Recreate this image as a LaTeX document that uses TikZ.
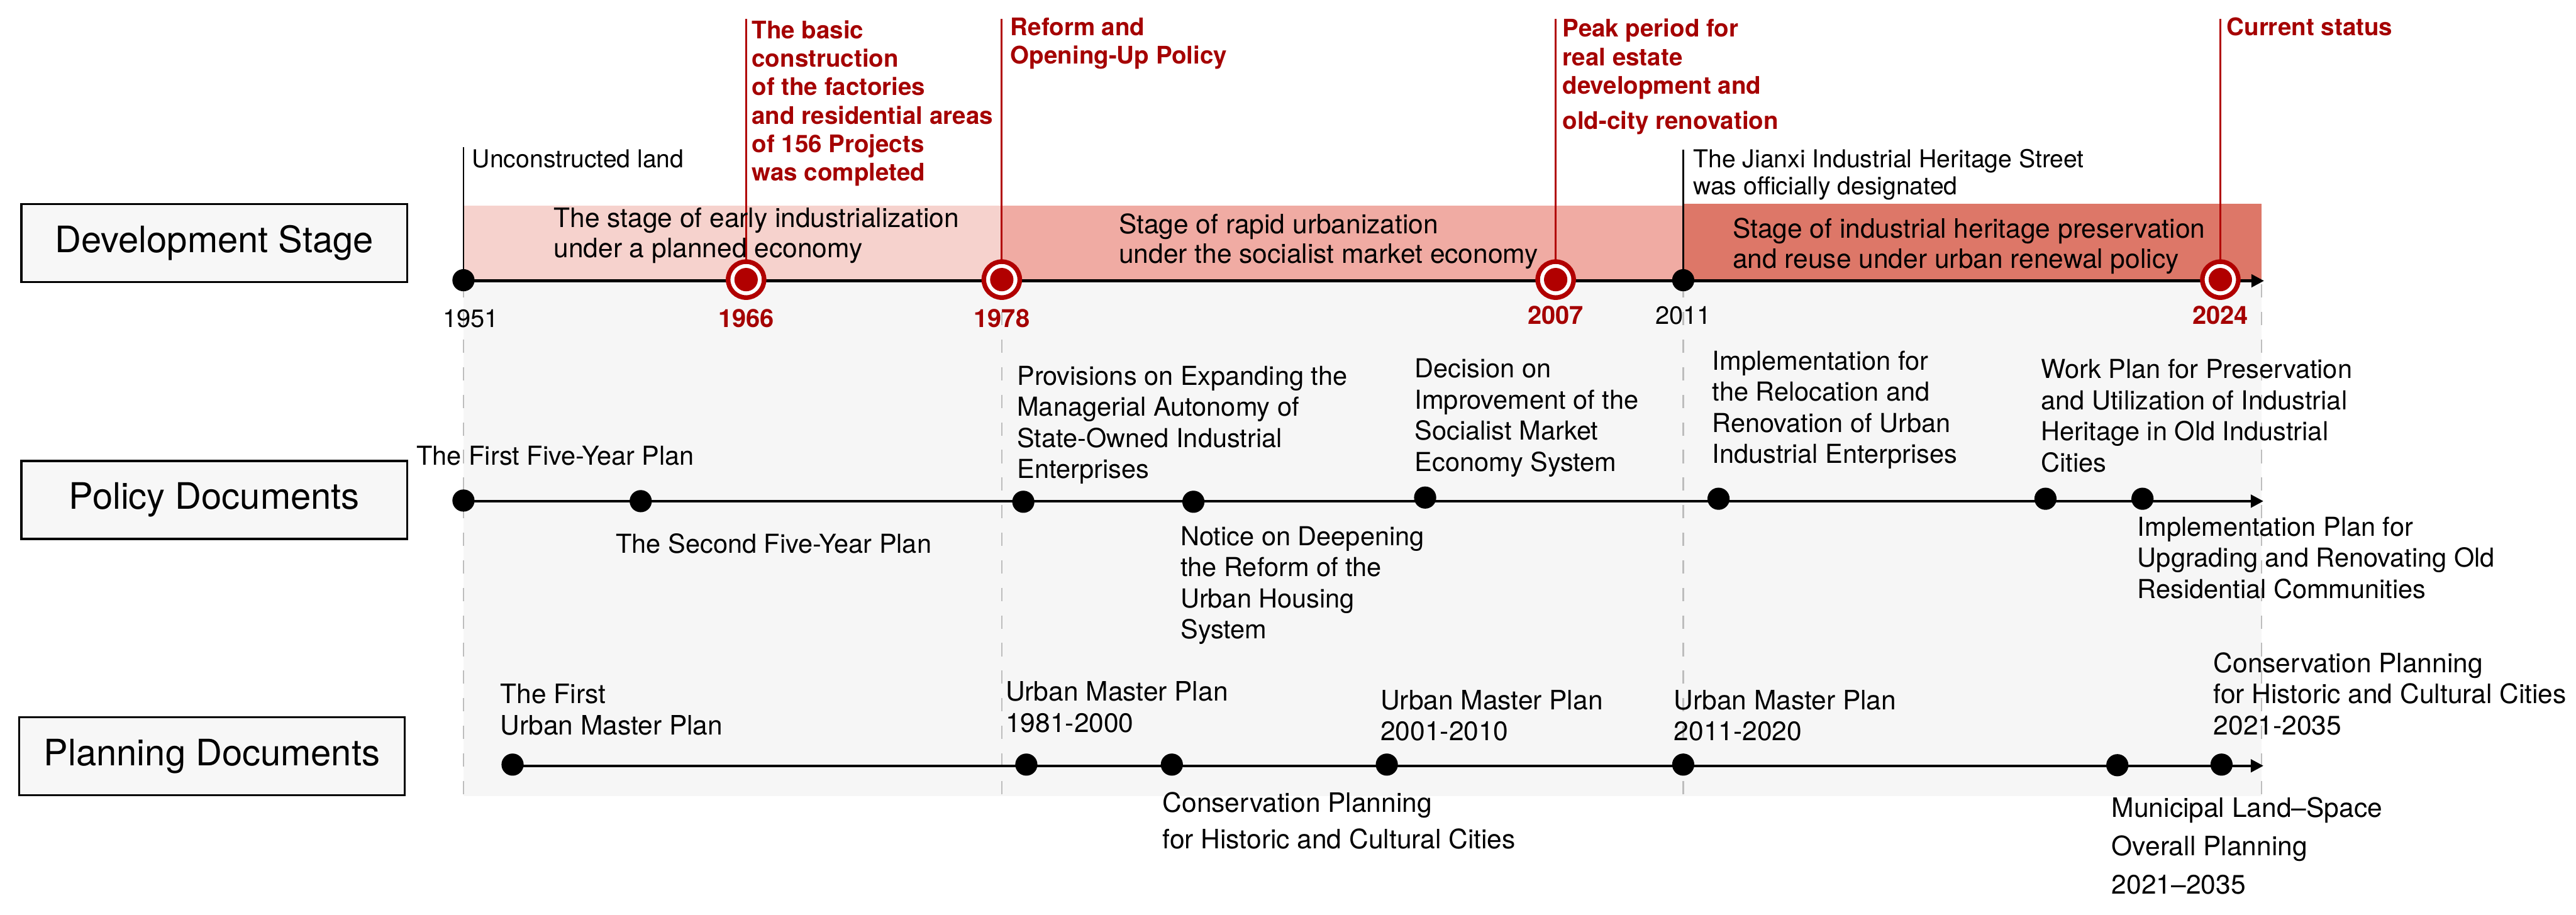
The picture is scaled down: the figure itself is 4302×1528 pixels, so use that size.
\documentclass[tikz,border=0pt]{standalone}
\usepackage{fontspec}
\setmainfont{TeX Gyre Heros}
\usetikzlibrary{arrows.meta}
\definecolor{ringred}{HTML}{B10000}
\definecolor{textred}{HTML}{A50000}
\definecolor{bandA}{HTML}{F6D2CD}
\definecolor{bandB}{HTML}{F0ABA3}
\definecolor{bandC}{HTML}{DD7768}
\definecolor{bggrey}{HTML}{F6F6F6}
\definecolor{boxfill}{HTML}{F7F7F7}
\definecolor{guidegrey}{HTML}{BDBDBD}
\newcommand\tlRow{\fontsize{17.3}{20}\selectfont}
\newcommand\tlBody{\fontsize{12.4}{14.8}\selectfont}
\newcommand\tlPlan{\fontsize{12.7}{14.8}\selectfont}
\newcommand\tlBand{\fontsize{12.7}{14.2}\selectfont}
\newcommand\tlNote{\fontsize{11.7}{12.8}\selectfont}
\newcommand\tlRed{\fontsize{11.5}{13.5}\selectfont\bfseries}
\newcommand\tlYear{\fontsize{11.9}{14}\selectfont}
\begin{document}
\begin{tikzpicture}[x=0.01cm,y=-0.01cm,
  rowbox/.style={draw=black, line width=1pt, fill=boxfill, minimum width=6.44cm, minimum height=1.30cm, inner sep=0pt, font=\tlRow},
  axis/.style={line width=1.3pt, draw=black, -{Triangle[length=6pt,width=6pt]}},
  guide/.style={draw=guidegrey, line width=0.7pt, dash pattern=on 6.3pt off 6.8pt},
  stem/.style={line width=0.85pt, draw=black},
  redstem/.style={line width=0.85pt, draw=ringred},
  bdot/.style={circle, fill=black, inner sep=0pt, minimum size=0.37cm},
  ring/.style={circle, draw=ringred, line width=2.2pt, fill=white, inner sep=0pt, minimum size=0.60cm},
  rdot/.style={circle, fill=ringred, inner sep=0pt, minimum size=0.39cm},
  lab/.style={anchor=base west, inner sep=0pt, align=left, font=\tlBody},
  plab/.style={anchor=base west, inner sep=0pt, align=left, font=\tlPlan},
  bandlab/.style={anchor=base west, inner sep=0pt, align=left, font=\tlBand},
  note/.style={anchor=base west, inner sep=0pt, align=left, font=\tlNote},
  redlab/.style={anchor=base west, inner sep=0pt, align=left, font=\tlRed, text=textred},
  yearlab/.style={anchor=base, inner sep=0pt, font=\tlYear},
  redyear/.style={anchor=base, inner sep=0pt, font=\tlYear\bfseries, text=textred}
]
\useasboundingbox (0,0) rectangle (4302,1528);
\fill[white] (0,0) rectangle (4302,1528);

% backgrounds
\fill[bggrey] (774,473) rectangle (3777,1330);
\fill[bandA] (774,343) rectangle (1673,472);
\fill[bandB] (1673,343) rectangle (2811,472);
\fill[bandC] (2811,340) rectangle (3777,472);

% dashed guides
\draw[guide] (774,475) -- (774,1333);
\draw[guide] (1673,475) -- (1673,1333);
\draw[guide] (2811,475) -- (2811,1333);
\draw[guide] (3777,475) -- (3777,1333);

% row labels
\node[rowbox] (devlab) at (358,406) {Development Stage};
\node[rowbox] (pollab) at (358,835) {Policy Documents};
\node[rowbox] (planlab) at (354,1263) {Planning Documents};

% ---------- development stage ----------
\coordinate (e1951) at (774,468);
\coordinate (e1966) at (1246,467);
\coordinate (e1978) at (1673,467);
\coordinate (e2007) at (2598,467);
\coordinate (e2011) at (2811,468);
\coordinate (e2024) at (3708,467);
\coordinate (devend) at (3781,469);
\coordinate (devstart) at (774,469);
\coordinate (top1951) at (774,246);
\coordinate (top2011) at (2811,250);
\coordinate (top1966) at (1246,32);
\coordinate (top1978) at (1673,32);
\coordinate (top2007) at (2598,32);
\coordinate (top2024) at (3708,32);

\draw[axis] (devstart) -- (devend);
\draw[stem] (top1951) -- (e1951);
\draw[stem] (top2011) -- (e2011);
\draw[redstem] (top1966) -- (e1966);
\draw[redstem] (top1978) -- (e1978);
\draw[redstem] (top2007) -- (e2007);
\draw[redstem] (top2024) -- (e2024);

\node[bdot] (d1951) at (e1951) {};
\node[bdot] (d2011) at (e2011) {};
\node[ring] (r1966) at (e1966) {};
\node[rdot] (c1966) at (e1966) {};
\node[ring] (r1978) at (e1978) {};
\node[rdot] (c1978) at (e1978) {};
\node[ring] (r2007) at (e2007) {};
\node[rdot] (c2007) at (e2007) {};
\node[ring] (r2024) at (e2024) {};
\node[rdot] (c2024) at (e2024) {};

\node[yearlab] (y1951) at (786,547) {1951};
\node[redyear] (y1966) at (1246,547) {1966};
\node[redyear] (y1978) at (1673,547) {1978};
\node[redyear] (y2007) at (2598,541) {2007};
\node[yearlab] (y2011) at (2811,541) {2011};
\node[redyear] (y2024) at (3708,541) {2024};

% (multi-line nodes are placed by the baseline of their last line)
\node[note] (n1951) at (788,280) {Unconstructed land};
\node[note] (n2011) at (2827,325) {The Jianxi Industrial Heritage Street\\was officially designated};

\node[redlab] (n1966) at (1255,302) {The basic\\construction\\of the factories\\and residential areas\\of 156 Projects\\was completed};
\node[redlab] (n1978) at (1687,107) {Reform and\\Opening-Up Policy};
\node[redlab] (n2007) at (2609,216) {Peak period for\\real estate\\development and\\[3.3pt]old-city renovation};
\node[redlab] (n2024) at (3718,59) {Current status};

\node[bandlab] (s1) at (924,430) {The stage of early industrialization\\under a planned economy};
\node[bandlab] (s2) at (1868,440) {Stage of rapid urbanization\\under the socialist market economy};
\node[bandlab] (s3) at (2893,448) {Stage of industrial heritage preservation\\and reuse under urban renewal policy};

% ---------- policy documents ----------
\coordinate (polstart) at (774,837);
\coordinate (polend) at (3780,837);
\draw[axis] (polstart) -- (polend);
\node[bdot] (p1) at (774,836) {};
\node[bdot] (p2) at (1070,837) {};
\node[bdot] (p3) at (1709,838) {};
\node[bdot] (p4) at (1993,838) {};
\node[bdot] (p5) at (2380,831) {};
\node[bdot] (p6) at (2870,833) {};
\node[bdot] (p7) at (3416,833) {};
\node[bdot] (p8) at (3578,833) {};

\node[lab] (lp1) at (695,777) {The First Five-Year Plan};
\node[lab] (lp2) at (1028,924) {The Second Five-Year Plan};
\node[lab] (lp3) at (1698,799) {Provisions on Expanding the\\Managerial Autonomy of\\State-Owned Industrial\\Enterprises};
\node[lab] (lp4) at (1971,1067) {Notice on Deepening\\the Reform of the\\Urban Housing\\System};
\node[lab] (lp5) at (2362,787) {Decision on\\Improvement of the\\Socialist Market\\Economy System};
\node[lab] (lp6) at (2859,774) {Implementation for\\the Relocation and\\Renovation of Urban\\Industrial Enterprises};
\node[lab] (lp7) at (3408,788) {Work Plan for Preservation\\and Utilization of Industrial\\Heritage in Old Industrial\\Cities};
\node[lab] (lp8) at (3569,999) {Implementation Plan for\\Upgrading and Renovating Old\\Residential Communities};

% ---------- planning documents ----------
\coordinate (plstart) at (856,1279);
\coordinate (plend) at (3780,1279);
\draw[axis] (plstart) -- (plend);
\node[bdot] (q1) at (856,1277) {};
\node[bdot] (q2) at (1714,1277) {};
\node[bdot] (q3) at (1957,1277) {};
\node[bdot] (q4) at (2316,1277) {};
\node[bdot] (q5) at (2811,1277) {};
\node[bdot] (q6) at (3536,1278) {};
\node[bdot] (q7) at (3710,1277) {};

\node[plab] (lq1) at (835,1227) {The First\\Urban Master Plan};
\node[plab] (lq2) at (1679,1223) {Urban Master Plan\\1981-2000};
\node[plab] (lq3) at (1941,1417) {Conservation Planning\\[2.4pt]for Historic and Cultural Cities};
\node[plab] (lq4) at (2305,1237) {Urban Master Plan\\2001-2010};
\node[plab] (lq5) at (2795,1237) {Urban Master Plan\\2011-2020};
\node[plab] (lq7) at (3696,1227) {Conservation Planning\\for Historic and Cultural Cities\\2021-2035};
\node[plab] (lq6) at (3526,1493) {Municipal Land–Space\\[3.4pt]Overall Planning\\[3.4pt]2021–2035};
\end{tikzpicture}
\end{document}
